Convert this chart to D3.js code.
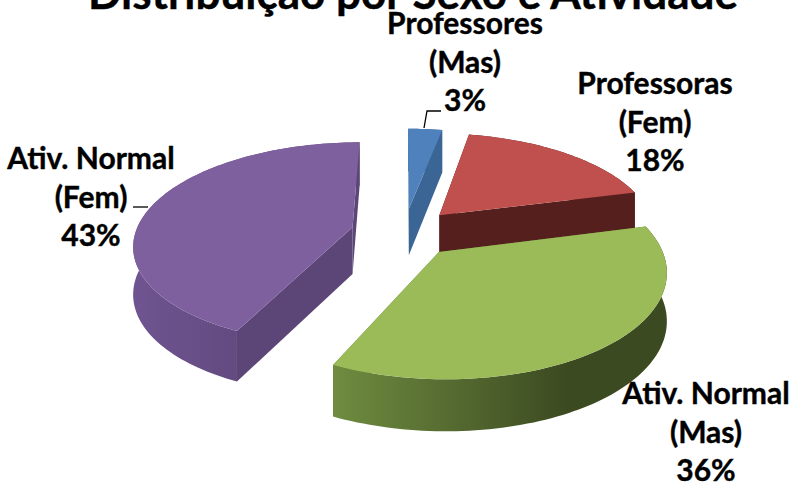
<!DOCTYPE html>
<html><head><meta charset="utf-8">
<script src="https://cdn.jsdelivr.net/npm/d3@7/dist/d3.min.js"></script>
<style>html,body{margin:0;padding:0;background:#fff}svg{display:block}
text{font-family:Lato,"Open Sans",sans-serif;font-weight:700;fill:#000;stroke:#000;stroke-width:0.4px}</style>
</head><body><script>
const titleText = "Distribuição por Sexo e Atividade";
const categories = ["Professores (Mas)","Professoras (Fem)","Ativ. Normal (Mas)","Ativ. Normal (Fem)"];
const labelLines = [["Professores","(Mas)","3%"],["Professoras","(Fem)","18%"],["Ativ. Normal","(Mas)","36%"],["Ativ. Normal","(Fem)","43%"]];
const values = [3,18,36,43];
const topColors = ["#4f81bd","#c0504d","#9bbb59","#7f609f"];
const cutColors = ["#3a6595","#551f1e","#5f7a35","#5c4677"];
const wallFrom  = ["#3a6595","#551f1e","#6f8c40","#6f5491"];
const wallTo    = ["#3a6595","#551f1e","#3c4a21","#5c4677"];
const labelX = [465,655,706,91];
const labelY = [34,94,404,169];
const leaders = [[[424,128],[427,111],[441,111]],[],[],[[133,207],[148,207]]];

const W=789,H=484, cx=404, cy=232.5, rx=217, ry=100, persp=0.16, persp2=0.08, depth=47, explode=0.245;
const svg=d3.select("body").append("svg").attr("width",W).attr("height",H);
const defs=svg.append("defs");
const project=(X,Y,z)=>{const s=1/(1+persp*Y);return [cx+rx*X*s, cy-ry*Y*s+(z?depth/(1+persp2*Y):0)];};
const pie=d3.pie().sort(null).value(d=>d)(values);
const line=d3.line();
// painter's order: back slices first
[0,1,3,2].forEach(i=>{
  const p=pie[i], mid=(p.startAngle+p.endAngle)/2;
  const ox=explode*Math.sin(mid), oy=explode*Math.cos(mid);
  const n=Math.max(6,Math.round((p.endAngle-p.startAngle)*40));
  const angles=d3.range(n+1).map(k=>p.startAngle+(p.endAngle-p.startAngle)*k/n);
  const rim=z=>angles.map(a=>project(ox+Math.sin(a),oy+Math.cos(a),z));
  const apex=z=>project(ox,oy,z);
  const top=rim(0), bot=rim(1);
  const g=svg.append("g").attr("class","slice").attr("data-cat",categories[i]);
  const ext=d3.extent(top,d=>d[0]);
  const grad=defs.append("linearGradient").attr("id","w"+i).attr("gradientUnits","userSpaceOnUse")
    .attr("x1",ext[0]).attr("x2",ext[0]+(ext[1]-ext[0])*0.7).attr("y1",0).attr("y2",0);
  grad.append("stop").attr("offset",0).attr("stop-color",wallFrom[i]);
  grad.append("stop").attr("offset",1).attr("stop-color",wallTo[i]);
  [[top[0],bot[0]],[top[n],bot[n]]].forEach(([t,b])=>{
    g.append("path").attr("d",line([apex(0),t,b,apex(1)])+"Z").attr("fill",cutColors[i]);
  });
  g.append("path").attr("d",line(top.concat(bot.slice().reverse()))+"Z").attr("fill","url(#w"+i+")");
  g.append("path").attr("d",line([apex(0)].concat(top))+"Z").attr("fill",topColors[i]);
});
// leaders
leaders.forEach(l=>{ if(l.length) svg.append("path").attr("d",line(l)).attr("fill","none").attr("stroke","#000").attr("stroke-width",1.3); });
// labels
const lineGap=38.7;
labelLines.forEach((lines,i)=>{
  lines.forEach((t,j)=>svg.append("text").attr("x",labelX[i]).attr("y",labelY[i]+j*lineGap)
    .attr("text-anchor","middle").attr("font-size",30).text(t));
});
svg.append("text").attr("x",413).attr("y",9).attr("text-anchor","middle").attr("font-size",44).text(titleText);
</script></body></html>
